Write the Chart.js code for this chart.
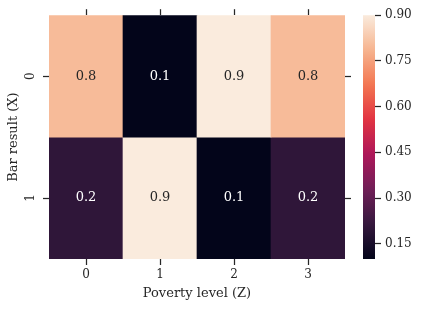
<!DOCTYPE html>
<html>
<head>
<meta charset="utf-8">
<script src="https://cdn.jsdelivr.net/npm/chart.js@4.4.0/dist/chart.umd.min.js"></script>
<style>
  html, body { margin: 0; padding: 0; background: #fff; }
</style>
</head>
<body>
<canvas id="heat" width="421" height="310"></canvas>
<script>
/* ---------- data ---------- */
const povertyLevels = ["0", "1", "2", "3"];   // Z, columns
const barResults = ["0", "1"];                 // X, rows (top to bottom)
const row0 = [0.8, 0.1, 0.9, 0.8];
const row1 = [0.2, 0.9, 0.1, 0.2];
const cbTicks = [0.15, 0.30, 0.45, 0.60, 0.75, 0.90];
const vMin = 0.1;
const vMax = 0.9;

// seaborn "rocket" colormap, sampled
const rocketStops = [
  [0.000, "#03051a"],
  [0.143, "#35193e"],
  [0.286, "#701f57"],
  [0.429, "#ad1759"],
  [0.571, "#e13342"],
  [0.714, "#f37651"],
  [0.857, "#f6b48f"],
  [1.000, "#faebdd"]
];

function hexToRgb(h) {
  return [1, 3, 5].map(i => parseInt(h.slice(i, i + 2), 16));
}

function rocket(t) {
  t = Math.min(1, Math.max(0, t));
  for (let i = 1; i < rocketStops.length; i++) {
    const [p1, c1] = rocketStops[i];
    const [p0, c0] = rocketStops[i - 1];
    if (t <= p1) {
      const f = (t - p0) / (p1 - p0);
      const a = hexToRgb(c0), b = hexToRgb(c1);
      return a.map((v, k) => Math.round(v + (b[k] - v) * f));
    }
  }
  return hexToRgb(rocketStops[rocketStops.length - 1][1]);
}

const norm = v => (v - vMin) / (vMax - vMin);
const rgbStr = c => `rgb(${c[0]},${c[1]},${c[2]})`;
const cellColor = v => rgbStr(rocket(norm(v)));

function textColorFor(v) {
  const c = rocket(norm(v)).map(x => {
    x /= 255;
    return x <= 0.03928 ? x / 12.92 : Math.pow((x + 0.055) / 1.055, 2.4);
  });
  const lum = 0.2126 * c[0] + 0.7152 * c[1] + 0.0722 * c[2];
  return lum > 0.408 ? "#262626" : "#ffffff";
}

/* ---------- chart ---------- */
Chart.defaults.font.family = "'DejaVu Serif', serif";
Chart.defaults.font.size = 12;
Chart.defaults.color = "#262626";

const rows = [row0, row1];
const datasets = rows.map((vals, r) => ({
  label: barResults[r],
  data: vals.map(() => [r, r + 1]),
  values: vals,
  backgroundColor: vals.map(cellColor),
  borderWidth: 0,
  grouped: false,
  barPercentage: 1,
  categoryPercentage: 1
}));

const tickGrid = {
  drawOnChartArea: false,
  drawTicks: true,
  tickLength: 6,
  tickColor: "#262626",
  tickWidth: 1.25,
  offset: false
};

const rowTicks = s => { s.ticks = barResults.map((_, i) => ({ value: i + 0.5 })); };

const annotations = {
  id: "annotations",
  afterDatasetsDraw(chart) {
    const ctx = chart.ctx;
    ctx.save();
    ctx.font = "13px 'DejaVu Serif', serif";
    ctx.textAlign = "center";
    ctx.textBaseline = "middle";
    chart.data.datasets.forEach((ds, i) => {
      chart.getDatasetMeta(i).data.forEach((bar, j) => {
        const v = ds.values[j];
        ctx.fillStyle = textColorFor(v);
        ctx.fillText(v.toFixed(1), bar.x, (bar.y + bar.base) / 2);
      });
    });
    ctx.restore();
  }
};

const colorbar = {
  id: "colorbar",
  afterDraw(chart) {
    const cb = chart.scales.cb;
    const ctx = chart.ctx;
    const yTop = cb.getPixelForValue(vMax);
    const yBot = cb.getPixelForValue(vMin);
    const x1 = cb.left;
    const x0 = x1 - 12;
    const grad = ctx.createLinearGradient(0, yBot, 0, yTop);
    for (let i = 0; i <= 40; i++) {
      grad.addColorStop(i / 40, rgbStr(rocket(i / 40)));
    }
    ctx.save();
    ctx.fillStyle = grad;
    ctx.fillRect(x0, yTop, x1 - x0, yBot - yTop);
    ctx.restore();
  }
};

new Chart(document.getElementById("heat"), {
  type: "bar",
  data: { labels: povertyLevels, datasets },
  options: {
    responsive: false,
    animation: false,
    events: [],
    layout: { padding: 0 },
    plugins: { legend: { display: false }, tooltip: { enabled: false } },
    scales: {
      x: {
        type: "category",
        position: "bottom",
        offset: true,
        grid: tickGrid,
        border: { display: false },
        ticks: { padding: 3 },
        title: { display: true, text: "Poverty level (Z)", font: { size: 13 }, padding: { top: 0, bottom: 9 } },
        afterFit: s => { s.height = 51; }
      },
      x2: {
        type: "category",
        position: "top",
        offset: true,
        grid: tickGrid,
        border: { display: false },
        ticks: { display: false },
        afterFit: s => { s.height = 13; }
      },
      y: {
        type: "linear",
        position: "left",
        min: 0,
        max: 2,
        reverse: true,
        grid: tickGrid,
        border: { display: false },
        afterBuildTicks: rowTicks,
        ticks: {
          minRotation: 90,
          maxRotation: 90,
          crossAlign: "center",
          padding: 8,
          callback: v => barResults[Math.floor(v)]
        },
        title: { display: true, text: "Bar result (X)", font: { size: 13 }, padding: { top: 6, bottom: 0 } },
        afterFit: s => { s.width = 49; }
      },
      y2: {
        type: "linear",
        position: "right",
        weight: 0,
        min: 0,
        max: 2,
        reverse: true,
        grid: tickGrid,
        border: { display: false },
        afterBuildTicks: rowTicks,
        ticks: { display: false },
        afterFit: s => { s.width = 30; }
      },
      cb: {
        type: "linear",
        position: "right",
        weight: 10,
        min: vMin,
        max: vMax,
        grid: tickGrid,
        border: { display: false },
        afterBuildTicks: s => { s.ticks = cbTicks.map(v => ({ value: v })); },
        ticks: { padding: 4, callback: v => v.toFixed(2) },
        afterFit: s => { s.width = 46; }
      }
    }
  },
  plugins: [annotations, colorbar]
});
</script>
</body>
</html>
